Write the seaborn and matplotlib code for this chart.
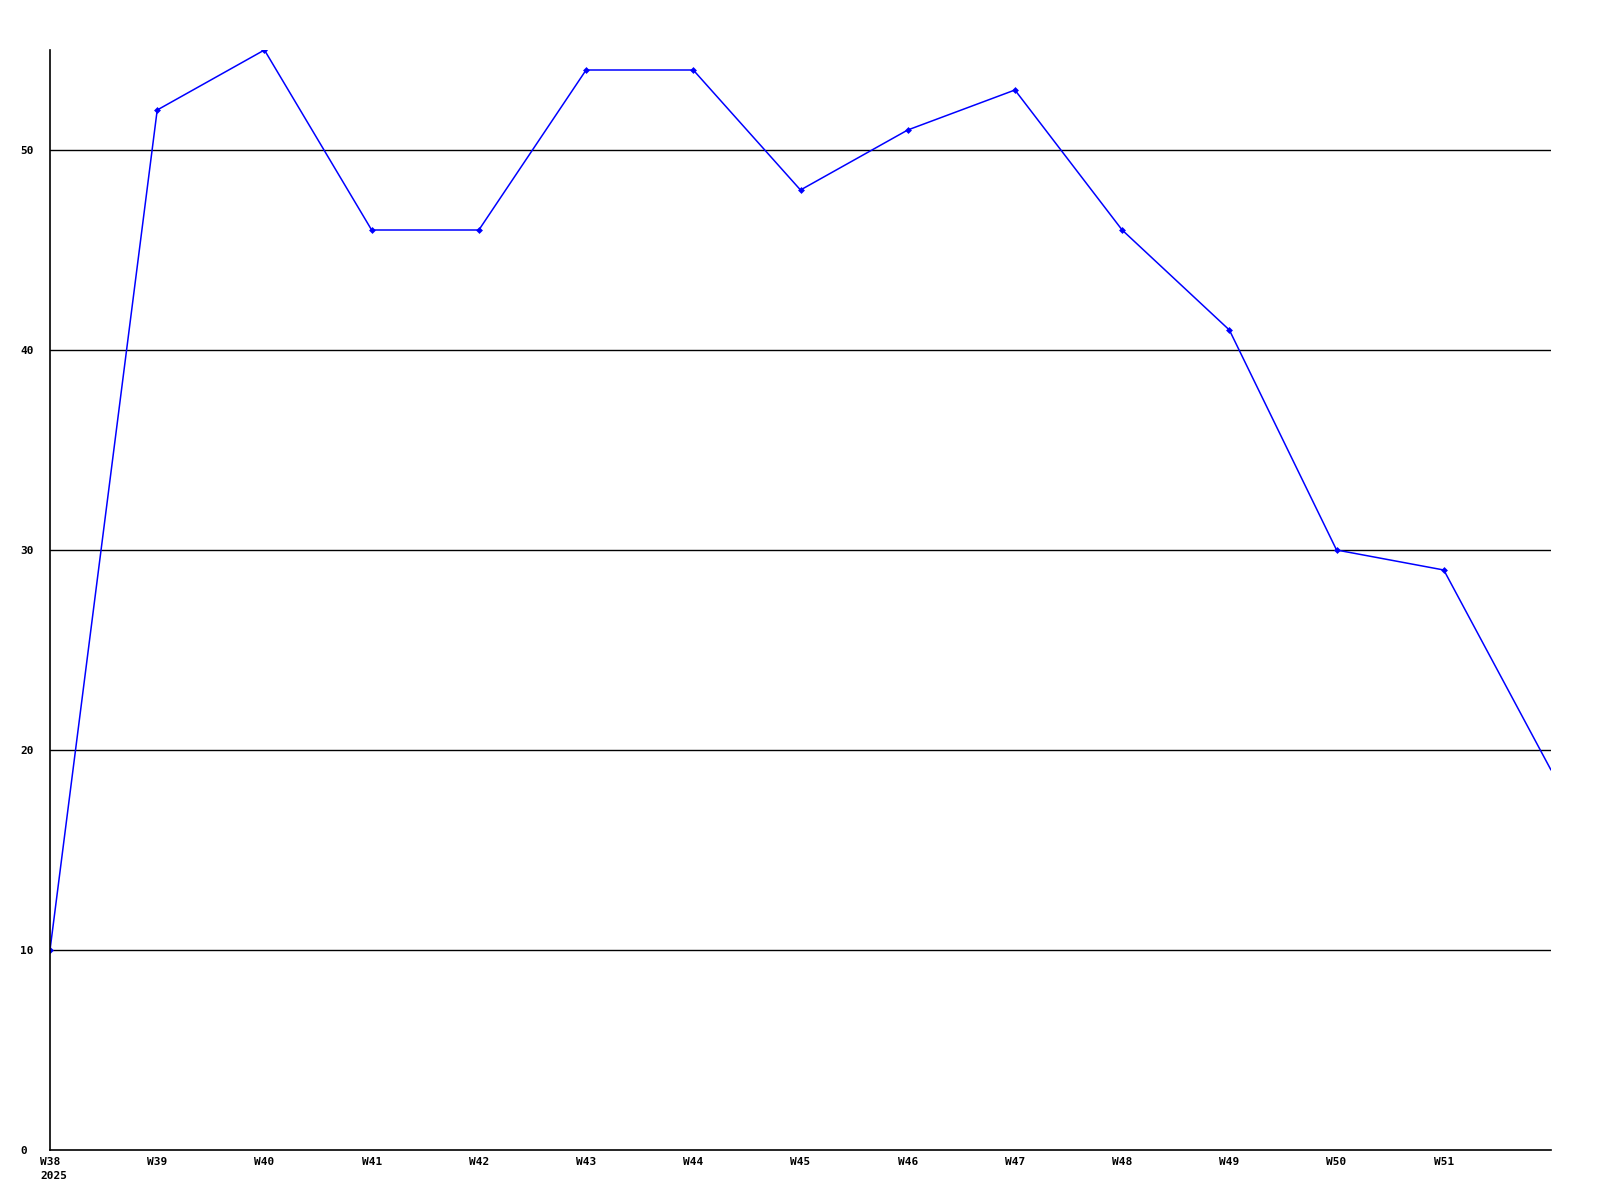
import matplotlib
matplotlib.use("Agg")
import matplotlib.pyplot as plt
import seaborn as sns
import pandas as pd

# weekly values
weeks = ["W38", "W39", "W40", "W41", "W42", "W43", "W44", "W45",
         "W46", "W47", "W48", "W49", "W50", "W51", "W52"]
values = [10, 52, 55, 46, 46, 54, 54, 48, 51, 53, 46, 41, 30, 29, 19]
tick_labels = weeks[:-1]
y_ticks = [0, 10, 20, 30, 40, 50]
year_label = "2025"

df = pd.DataFrame({"idx": range(len(weeks)), "week": weeks, "value": values})

sns.set_style("white")
plt.rcParams["font.family"] = ["DejaVu Sans Mono"]

fig = plt.figure(figsize=(16, 12), dpi=100)
ax = fig.add_axes([50 / 1600, 50 / 1200, 1501 / 1600, 1100 / 1200])

# last point sits on the axis edge without a marker
sns.lineplot(data=df, x="idx", y="value", ax=ax, color="#0000ff",
             linewidth=1.1, marker="D", markersize=3.5, markeredgewidth=0,
             markevery=list(range(len(weeks) - 1)))

ax.set_xlim(0, len(weeks) - 1)
ax.set_ylim(0, 55)

ax.set_yticks(y_ticks)
ax.set_yticklabels([str(v) for v in y_ticks], fontsize=8, fontweight="bold",
                   ha="left")
ax.set_xticks(range(len(tick_labels)))
ax.set_xticklabels(tick_labels, fontsize=8, fontweight="bold")
ax.tick_params(axis="both", length=0, labelcolor="black")
ax.tick_params(axis="y", pad=21.5)
ax.tick_params(axis="x", pad=5)

for v in y_ticks[1:]:
    ax.axhline(v, color="black", linewidth=1, zorder=0)

for s in ["top", "right"]:
    ax.spines[s].set_visible(False)
for s in ["left", "bottom"]:
    ax.spines[s].set_color("black")
    ax.spines[s].set_linewidth(1.2)

ax.set_xlabel("")
ax.set_ylabel("")

fig.text(40 / 1600, 1 - 1176 / 1200, year_label, fontsize=8,
         fontweight="bold", ha="left", va="center", color="black")

fig.savefig("out.png", dpi=100, facecolor="white")
